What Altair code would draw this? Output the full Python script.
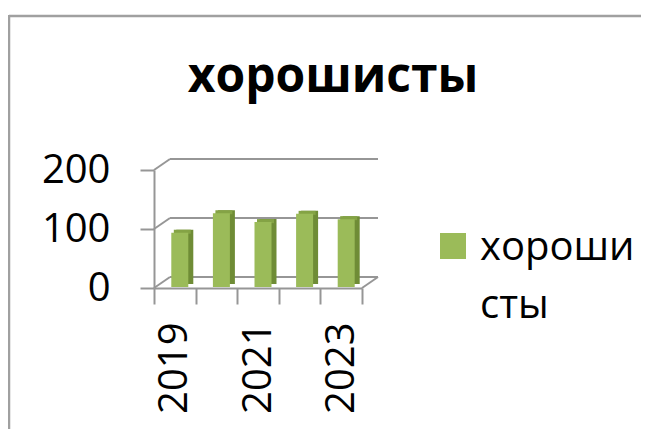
import altair as alt
import pandas as pd

years = ["2019", "2020", "2021", "2022", "2023"]
values = [92, 125, 110, 124, 115]
series_name = "хорошисты"
legend_lines = ["хороши", "сты"]
grid_values = [0, 100, 200]
shown_labels = ["2019", "2021", "2023"]

FRONT = "#9bbb59"
SIDE = "#6f8c36"
TOP = "#84a345"
GRAY = "#969696"
FONT = "Open Sans"

df = pd.DataFrame({"year": years, "value": values, "series": [series_name] * len(years)})
grid_df = pd.DataFrame({"v": grid_values})

W, H = 208, 118
DX, DY = 16, -11

x_enc = alt.X(
    "year:N",
    sort=years,
    scale=alt.Scale(paddingInner=0, paddingOuter=0),
    axis=alt.Axis(
        title=None,
        tickBand="extent",
        labelAngle=-90,
        labelExpr="indexof(" + str(shown_labels) + ", datum.label) >= 0 ? datum.label : ''",
        labelFont=FONT,
        labelFontSize=40,
        labelColor="black",
        labelPadding=18,
        tickSize=16,
        tickWidth=2,
        tickColor=GRAY,
        domainColor=GRAY,
        domainWidth=2,
        grid=False,
    ),
)
y_scale = alt.Scale(domain=[0, 200], nice=False)
y_enc = alt.Y(
    "value:Q",
    scale=y_scale,
    axis=alt.Axis(
        title=None,
        values=grid_values,
        labelFont=FONT,
        labelFontSize=40,
        labelColor="black",
        labelPadding=30,
        tickSize=14,
        tickWidth=2,
        tickColor=GRAY,
        domainColor=GRAY,
        domainWidth=2,
        grid=False,
    ),
)

base = alt.Chart(df)

side = base.mark_bar(size=17, xOffset=10, yOffset=-4, y2Offset=-4, color=SIDE).encode(x=x_enc, y=y_enc)
top = base.mark_bar(size=17, xOffset=7.5, yOffset=-4, y2Offset=0, color=TOP).encode(
    x=x_enc, y=y_enc, y2=alt.Y2("value:Q")
)
front = base.mark_bar(size=17, xOffset=5, yOffset=-1, y2Offset=-1, color=FRONT).encode(x=x_enc, y=y_enc)

back_grid = alt.Chart(grid_df).mark_rule(color=GRAY, strokeWidth=2, yOffset=DY).encode(
    x=alt.value(DX), x2=alt.value(W + DX), y=alt.Y("v:Q", scale=y_scale)
)
left_wall = alt.Chart(grid_df).mark_rule(color=GRAY, strokeWidth=2, y2Offset=DY).encode(
    x=alt.value(0), x2=alt.value(DX), y=alt.Y("v:Q", scale=y_scale), y2=alt.Y2("v:Q")
)
floor_right = alt.Chart(grid_df).transform_filter("datum.v == 0").mark_rule(
    color=GRAY, strokeWidth=2, y2Offset=DY
).encode(x=alt.value(W), x2=alt.value(W + DX), y=alt.Y("v:Q", scale=y_scale), y2=alt.Y2("v:Q"))

frame_top = alt.Chart(grid_df).transform_filter("datum.v == 0").mark_rule(color="#a0a0a0", strokeWidth=2.5).encode(
    x=alt.value(-145), x2=alt.value(500), y=alt.value(-154)
)
frame_left = alt.Chart(grid_df).transform_filter("datum.v == 0").mark_rule(color="#a0a0a0", strokeWidth=2.5).encode(
    x=alt.value(-145), y=alt.value(-155), y2=alt.value(300)
)

title_df = pd.DataFrame({"t": [series_name]})
title_mark = alt.Chart(title_df).mark_text(
    font=FONT, fontSize=48, fontWeight="bold", align="center", baseline="alphabetic", color="black"
).encode(text="t:N", x=alt.value(179), y=alt.value(-78))

legend_sym = base.transform_filter("datum.year == '2019'").mark_square(size=676, opacity=1).encode(
    x=alt.value(299), y=alt.value(76),
    color=alt.Color("series:N", scale=alt.Scale(domain=[series_name], range=[FRONT]), legend=None),
)
legend_df = pd.DataFrame({"t": legend_lines, "i": list(range(len(legend_lines)))})
legend_txt1 = alt.Chart(legend_df).transform_filter("datum.i == 0").mark_text(
    font=FONT, fontSize=40, align="left", baseline="alphabetic", color="black"
).encode(text="t:N", x=alt.value(326), y=alt.value(90))
legend_txt2 = alt.Chart(legend_df).transform_filter("datum.i == 1").mark_text(
    font=FONT, fontSize=40, align="left", baseline="alphabetic", color="black"
).encode(text="t:N", x=alt.value(326), y=alt.value(148))

chart = alt.layer(
    frame_top, frame_left, back_grid, left_wall, floor_right, side, top, front,
    title_mark, legend_sym, legend_txt1, legend_txt2,
).properties(
    width=W,
    height=H,
    autosize=alt.AutoSizeParams(type="none"),
    padding={"left": 146, "top": 162, "right": 279, "bottom": 141},
).configure_view(stroke=None)

chart.save("out.html", embed_options={"renderer": "svg", "actions": False})
